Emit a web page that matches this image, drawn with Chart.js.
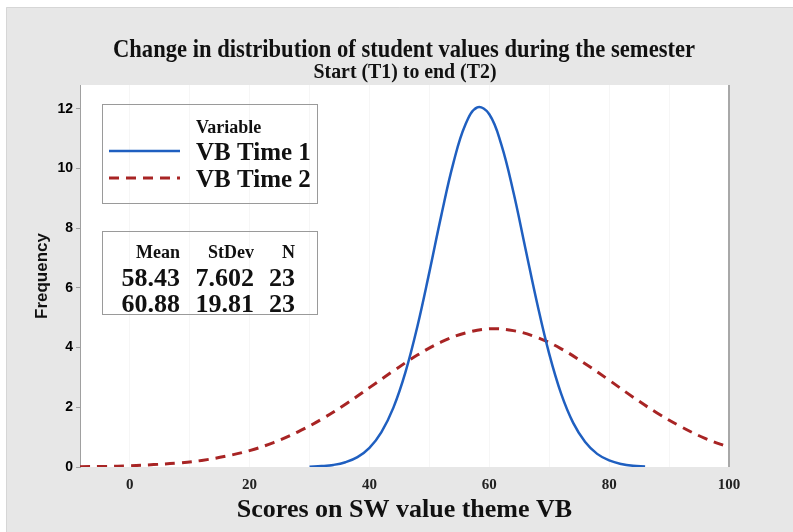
<!DOCTYPE html>
<html>
<head>
<meta charset="utf-8">
<script src="https://cdn.jsdelivr.net/npm/chart.js@4"></script>
<style>
html,body{margin:0;padding:0;background:#fff;}
#wrap{width:793px;height:532px;}
</style>
</head>
<body>
<div id="wrap"><canvas id="c" width="793" height="532"></canvas></div>
<script>
// ---- data ----
const titleText = "Change in distribution of student values during the semester";
const subtitleText = "Start (T1) to end (T2)";
const xAxisTitle = "Scores on SW value theme VB";
const yAxisTitle = "Frequency";
const seriesNames = ["VB Time 1", "VB Time 2"];
const statHeader = ["Mean", "StDev", "N"];
const statRow1 = ["58.43", "7.602", "23"];
const statRow2 = ["60.88", "19.81", "23"];

const xTicks = [0, 10, 20, 30, 40, 50, 60, 70, 80, 90, 100];
const yTicks = [0, 2, 4, 6, 8, 10, 12];

const t1X = [30, 32, 34, 36, 38, 40, 42, 44, 46, 48, 50, 52, 54, 56, 58, 60, 62, 64, 66, 68, 70, 72, 74, 76, 78, 80, 82, 84, 86];
const t1Y = [0.01, 0.03, 0.07, 0.16, 0.33, 0.64, 1.17, 1.99, 3.17, 4.71, 6.53, 8.44, 10.18, 11.47, 12.05, 11.82, 10.81, 9.23, 7.35, 5.47, 3.79, 2.45, 1.48, 0.84, 0.44, 0.22, 0.10, 0.04, 0.02];

const t2X = [-8.3, -4, 0, 4, 8, 12, 16, 20, 24, 28, 32, 36, 40, 44, 48, 52, 56, 60, 64, 68, 72, 76, 80, 84, 88, 92, 96, 100];
const t2Y = [0.01, 0.02, 0.04, 0.08, 0.13, 0.22, 0.36, 0.55, 0.82, 1.17, 1.60, 2.10, 2.66, 3.22, 3.75, 4.19, 4.49, 4.63, 4.57, 4.34, 3.96, 3.46, 2.91, 2.34, 1.81, 1.35, 0.96, 0.66];

const blue = '#1f5fc0';
const red = '#a82424';

const toPts = (xs, ys) => xs.map((x, i) => ({x: x, y: ys[i]}));

function fitText(ctx, text, cx, baseline, width) {
  const w = ctx.measureText(text).width;
  ctx.save();
  ctx.translate(cx, baseline);
  ctx.scale(width / w, 1);
  ctx.textAlign = 'center';
  ctx.fillText(text, 0, 0);
  ctx.restore();
}

const bgPlugin = {
  id: 'bg',
  beforeDraw(chart) {
    const ctx = chart.ctx, a = chart.chartArea;
    ctx.save();
    ctx.fillStyle = '#ffffff';
    ctx.fillRect(0, 0, chart.width, chart.height);
    ctx.fillStyle = '#e7e7e7';
    ctx.fillRect(6, 7, chart.width - 6, chart.height - 7);
    ctx.strokeStyle = '#d6d6d6';
    ctx.lineWidth = 1;
    ctx.beginPath();
    ctx.moveTo(6.5, chart.height); ctx.lineTo(6.5, 7.5); ctx.lineTo(chart.width, 7.5);
    ctx.stroke();
    ctx.fillStyle = '#ffffff';
    ctx.fillRect(a.left, a.top, a.right - a.left, a.bottom - a.top);
    ctx.restore();
  },
  afterDraw(chart) {
    const ctx = chart.ctx, a = chart.chartArea;
    ctx.save();
    // titles
    ctx.fillStyle = '#111';
    ctx.textBaseline = 'alphabetic';
    ctx.font = 'bold 25px "Liberation Serif"';
    fitText(ctx, titleText, 404, 57, 582);
    ctx.font = 'bold 20px "Liberation Serif"';
    fitText(ctx, subtitleText, 405, 78, 183);

    // right border of plot area
    ctx.strokeStyle = '#a8a8a8';
    ctx.lineWidth = 2;
    ctx.beginPath();
    ctx.moveTo(a.right, a.top); ctx.lineTo(a.right, a.bottom);
    ctx.stroke();

    // legend box
    ctx.lineWidth = 1;
    ctx.strokeStyle = '#9a9a9a';
    ctx.strokeRect(102.5, 104.5, 215, 99);
    ctx.fillStyle = '#111';
    ctx.textAlign = 'left';
    ctx.font = 'bold 18px "Liberation Serif"';
    ctx.fillText('Variable', 196, 133);
    ctx.font = 'bold 25px "Liberation Serif"';
    ctx.fillText(seriesNames[0], 196, 160);
    ctx.fillText(seriesNames[1], 196, 187);
    ctx.lineWidth = 2.5;
    ctx.strokeStyle = blue;
    ctx.beginPath(); ctx.moveTo(109, 151); ctx.lineTo(180, 151); ctx.stroke();
    ctx.strokeStyle = red;
    ctx.lineWidth = 3;
    ctx.setLineDash([10, 7]);
    ctx.beginPath(); ctx.moveTo(109, 178); ctx.lineTo(180, 178); ctx.stroke();
    ctx.setLineDash([]);

    // stats box
    ctx.lineWidth = 1;
    ctx.strokeStyle = '#9a9a9a';
    ctx.strokeRect(102.5, 231.5, 215, 83);
    ctx.textAlign = 'right';
    ctx.fillStyle = '#111';
    const cols = [180, 254, 295];
    ctx.font = 'bold 18px "Liberation Serif"';
    statHeader.forEach((t, i) => ctx.fillText(t, cols[i], 258));
    ctx.font = 'bold 26px "Liberation Serif"';
    statRow1.forEach((t, i) => ctx.fillText(t, cols[i], 286));
    statRow2.forEach((t, i) => ctx.fillText(t, cols[i], 312));
    ctx.restore();
  }
};

new Chart(document.getElementById('c'), {
  type: 'line',
  data: {
    datasets: [
      {
        label: seriesNames[0],
        data: toPts(t1X, t1Y),
        borderColor: blue,
        borderWidth: 2.5,
        pointRadius: 0,
        tension: 0.4,
        fill: false
      },
      {
        label: seriesNames[1],
        data: toPts(t2X, t2Y),
        borderColor: red,
        borderWidth: 3,
        borderDash: [10, 7],
        pointRadius: 0,
        tension: 0.4,
        fill: false
      }
    ]
  },
  plugins: [bgPlugin],
  options: {
    responsive: false,
    animation: false,
    devicePixelRatio: 1,
    layout: { padding: { left: 0, right: 64, top: 85, bottom: 0 } },
    plugins: {
      legend: { display: false },
      tooltip: { enabled: false },
      title: { display: false },
      subtitle: { display: false }
    },
    scales: {
      x: {
        type: 'linear',
        min: -8.3,
        max: 100,
        afterBuildTicks: s => { s.ticks = xTicks.map(v => ({value: v})); },
        afterFit: s => { s.height = 65; },
        grid: { display: true, drawTicks: false, color: '#f6f6f6', lineWidth: 1 },
        border: { display: false },
        ticks: {
          padding: 9,
          color: '#222',
          font: { family: '"Liberation Serif"', size: 15, weight: 'bold' },
          maxRotation: 0,
          callback: v => (v % 20 === 0 ? String(v) : '')
        },
        title: {
          display: true,
          text: xAxisTitle,
          color: '#111',
          font: { family: '"Liberation Serif"', size: 26, weight: 'bold', lineHeight: 1.2 },
          padding: { top: 0, bottom: 6 }
        }
      },
      y: {
        type: 'linear',
        min: 0,
        max: 12.8,
        afterBuildTicks: s => { s.ticks = yTicks.map(v => ({value: v})); },
        afterFit: s => { s.width = 80; },
        grid: { display: true, drawOnChartArea: false, drawTicks: true, tickLength: 4, color: '#a0a0a0' },
        border: { display: true, color: '#a0a0a0', width: 1 },
        ticks: {
          padding: 3,
          color: '#000',
          font: { family: '"Liberation Sans"', size: 14, weight: 'bold' }
        },
        title: {
          display: true,
          text: yAxisTitle,
          color: '#111',
          font: { family: '"Liberation Sans"', size: 17, weight: 'bold', lineHeight: 1.2 },
          padding: { top: 32, bottom: 0 }
        }
      }
    }
  }
});
</script>
</body>
</html>
